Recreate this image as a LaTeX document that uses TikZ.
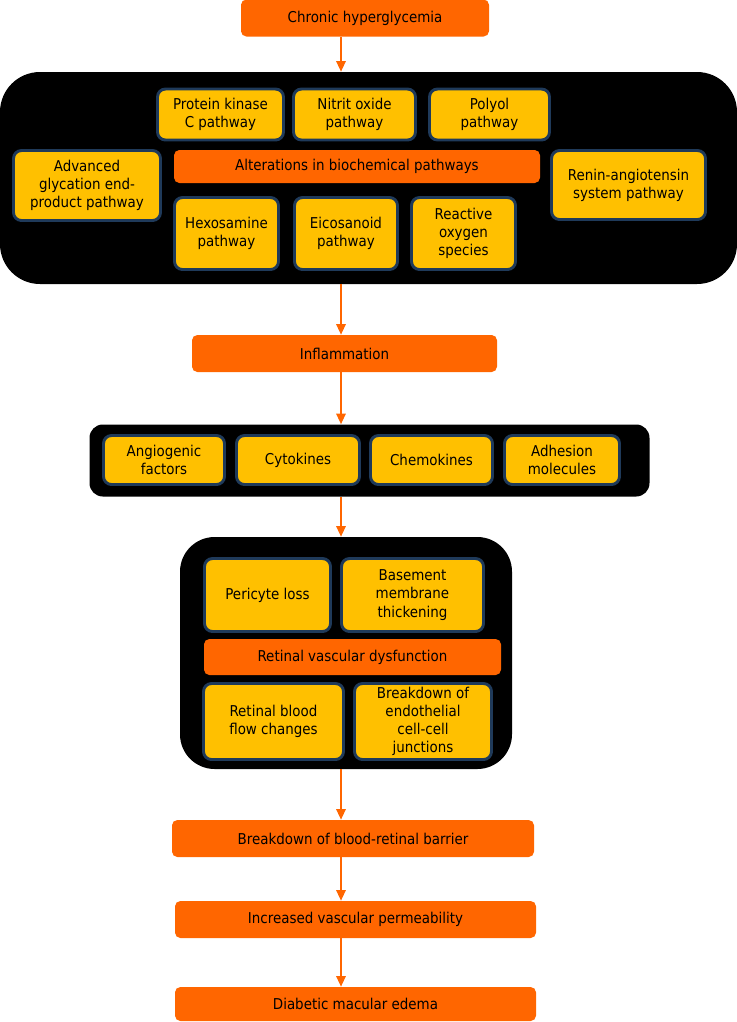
\documentclass[tikz,border=0pt]{standalone}
\usepackage{fontspec}
\setmainfont{DejaVu Sans Condensed}
\usetikzlibrary{arrows.meta}
\definecolor{orng}{HTML}{FF6600}
\definecolor{yel}{HTML}{FFC000}
\definecolor{bord}{HTML}{1F3A5A}
\begin{document}
\begin{tikzpicture}[x=0.75pt,y=-0.75pt,
  sz/.style 2 args={minimum width=#1*0.75pt, minimum height=#2*0.75pt},
  txt/.style={inner sep=0pt, align=center, font=\fontsize{11.2}{13.6}\selectfont},
  obox/.style={txt, fill=orng, rounded corners=4pt},
  ybox/.style={txt, fill=yel, draw=bord, line width=2.2pt, rounded corners=6pt},
  blk/.style={fill=black, inner sep=0pt},
  arr/.style={draw=orng, line width=1.5pt, -{Triangle[length=8pt,width=7pt]}}]
\useasboundingbox (0,0) rectangle (737,1022);
\coordinate (axis) at (341,0);
% containers
\node[blk, sz={737}{212}, rounded corners=30pt] (grp1) at (368.5,178) {};
\node[blk, sz={560}{72}, rounded corners=10pt] (grp2) at (369.5,460.5) {};
\node[blk, sz={332}{232}, rounded corners=26pt] (grp3) at (346,653) {};
% orange steps
\node[obox, sz={248}{37}] (chronic) at (365,18) {Chronic hyperglycemia};
\node[obox, sz={366}{33}] (alter) at (357,166.5) {Alterations in biochemical pathways};
\node[obox, sz={305}{37}] (inflam) at (344.5,353.5) {Inflammation};
\node[obox, sz={297}{36}] (rvd) at (352.5,657) {Retinal vascular dysfunction};
\node[obox, sz={362}{37}] (brb) at (353,838.5) {Breakdown of blood-retinal barrier};
\node[obox, sz={361}{37}] (perm) at (355.5,919.5) {Increased vascular permeability};
\node[obox, sz={361}{34}] (dme) at (355.5,1004) {Diabetic macular edema};
% group 1
\node[ybox, sz={126}{51}] (pkc) at (220.5,114.5) {Protein kinase\\C pathway};
\node[ybox, sz={122}{51}] (no) at (354.5,114.5) {Nitrit oxide\\pathway};
\node[ybox, sz={120}{51}] (polyol) at (489.5,114.5) {Polyol\\pathway};
\node[ybox, sz={147}{70}] (age) at (87,185.5) {Advanced\\glycation end-\\product pathway};
\node[ybox, sz={154}{69}] (ras) at (628.5,185) {Renin-angiotensin\\system pathway};
\node[ybox, sz={104}{72}] (hex) at (226.5,233.5) {Hexosamine\\pathway};
\node[ybox, sz={103}{72}] (eico) at (346,233.5) {Eicosanoid\\pathway};
\node[ybox, sz={104}{72}] (ros) at (463.5,233.5) {Reactive\\oxygen\\species};
% group 2
\node[ybox, sz={121}{49}] (angio) at (164,460) {Angiogenic\\factors};
\node[ybox, sz={123}{49}] (cyto) at (298,460) {Cytokines};
\node[ybox, sz={122}{49}] (chemo) at (431.5,460) {Chemokines};
\node[ybox, sz={115}{49}] (adh) at (562,460) {Adhesion\\molecules};
% group 3
\node[ybox, sz={126}{73}] (peri) at (267.5,595) {Pericyte loss};
\node[ybox, sz={142}{73}] (base) at (412.5,595) {Basement\\membrane\\thickening};
\node[ybox, sz={140}{76}] (rbf) at (273.5,721.5) {Retinal blood\\flow changes};
\node[ybox, sz={137}{76}] (endo) at (423,721.5) {Breakdown of\\endothelial\\cell-cell\\junctions};
% connectors
\draw[arr] (chronic.south -| axis) -- (grp1.north -| axis);
\draw[arr] (grp1.south -| axis) -- (inflam.north -| axis);
\draw[arr] (inflam.south -| axis) -- (grp2.north -| axis);
\draw[arr] (grp2.south -| axis) -- (grp3.north -| axis);
\draw[arr] (grp3.south -| axis) -- (brb.north -| axis);
\draw[arr] (brb.south -| axis) -- (perm.north -| axis);
\draw[arr] (perm.south -| axis) -- (dme.north -| axis);
\end{tikzpicture}
\end{document}
